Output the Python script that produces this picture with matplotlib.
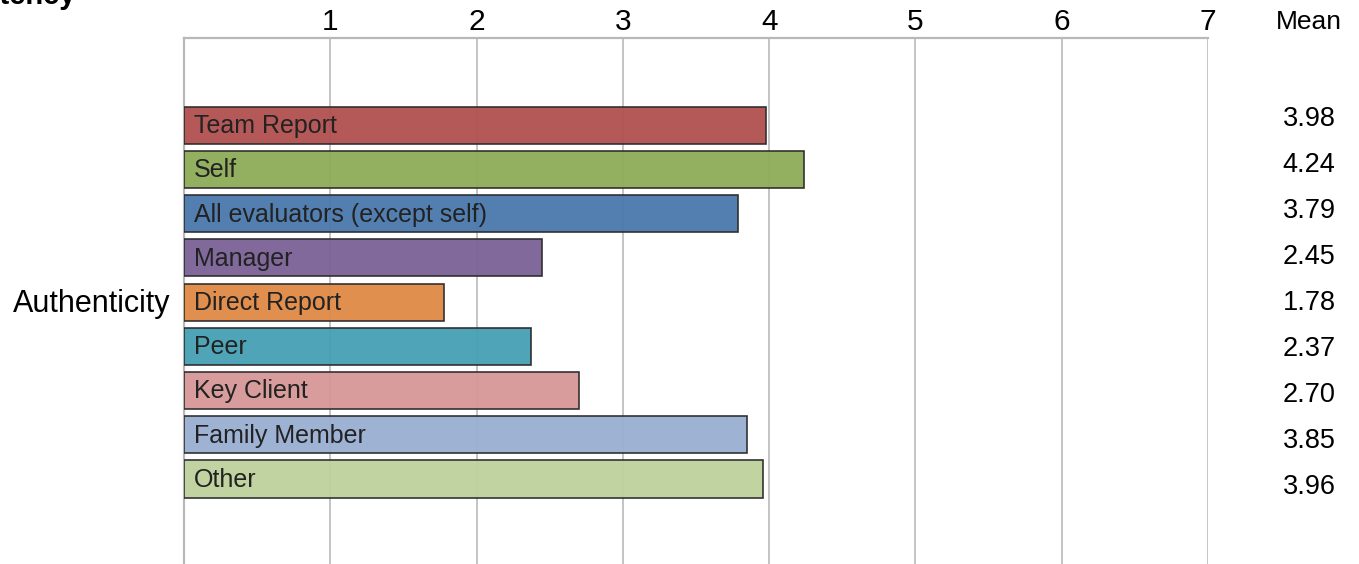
import matplotlib.pyplot as plt

# evaluator groups and their mean scores
groups = ["Team Report", "Self", "All evaluators (except self)", "Manager",
          "Direct Report", "Peer", "Key Client", "Family Member", "Other"]
means = [3.98, 4.24, 3.79, 2.45, 1.78, 2.37, 2.70, 3.85, 3.96]
colors = ["#b04f4f", "#8dab57", "#4a78ac", "#7a6196", "#e08944",
          "#45a0b3", "#d59796", "#99aed2", "#bfd19d"]
scale_ticks = [1, 2, 3, 4, 5, 6, 7]

plt.rcParams["font.family"] = ["Liberation Sans", "DejaVu Sans"]

W, H = 1359, 564
fig = plt.figure(figsize=(W / 100, H / 100), dpi=100)
ax = fig.add_axes([184 / W, 0, (1208 - 184) / W, (H - 38) / H])

pos = list(range(len(groups)))
ax.barh(pos, means, height=0.84, color=colors, edgecolor="#2a2a2a",
        linewidth=1.2, alpha=0.95, zorder=3)

for i, g in enumerate(groups):
    ax.text(0.07, i + 0.02, g, va="center", ha="left", fontsize=18,
            color="#222222", zorder=4)

ax.set_xlim(0, 7)
ax.set_ylim(9.92, -1.97)
ax.set_xticks(scale_ticks)
ax.xaxis.tick_top()
ax.tick_params(axis="x", length=0, labelsize=21.5, pad=1.5)
ax.set_yticks([])
ax.grid(axis="x", color="#c4c4c4", linewidth=1.4, zorder=0)
for side in ["right", "bottom"]:
    ax.spines[side].set_visible(False)
for side in ["left", "top"]:
    ax.spines[side].set_color("#b8b8b8")
    ax.spines[side].set_linewidth(1.6)

# row label on the left
fig.text(170 / W, 1 - 304 / H, "Authenticity", ha="right", va="center",
         fontsize=22)

# mean column on the right
fig.text(1309 / W, 1 - 22 / H, "Mean", ha="center", va="center", fontsize=19)
for i, m in enumerate(means):
    fig.text(1309 / W, 1 - (119 + i * 46) / H, f"{m:.2f}", ha="center",
             va="center", fontsize=19.5)

# section heading, mostly above the visible area
fig.text(76 / W, 1 - 4 / H, "Competency", ha="right", va="baseline",
         fontsize=21, fontweight="bold")

fig.savefig("out.png", dpi=100)
